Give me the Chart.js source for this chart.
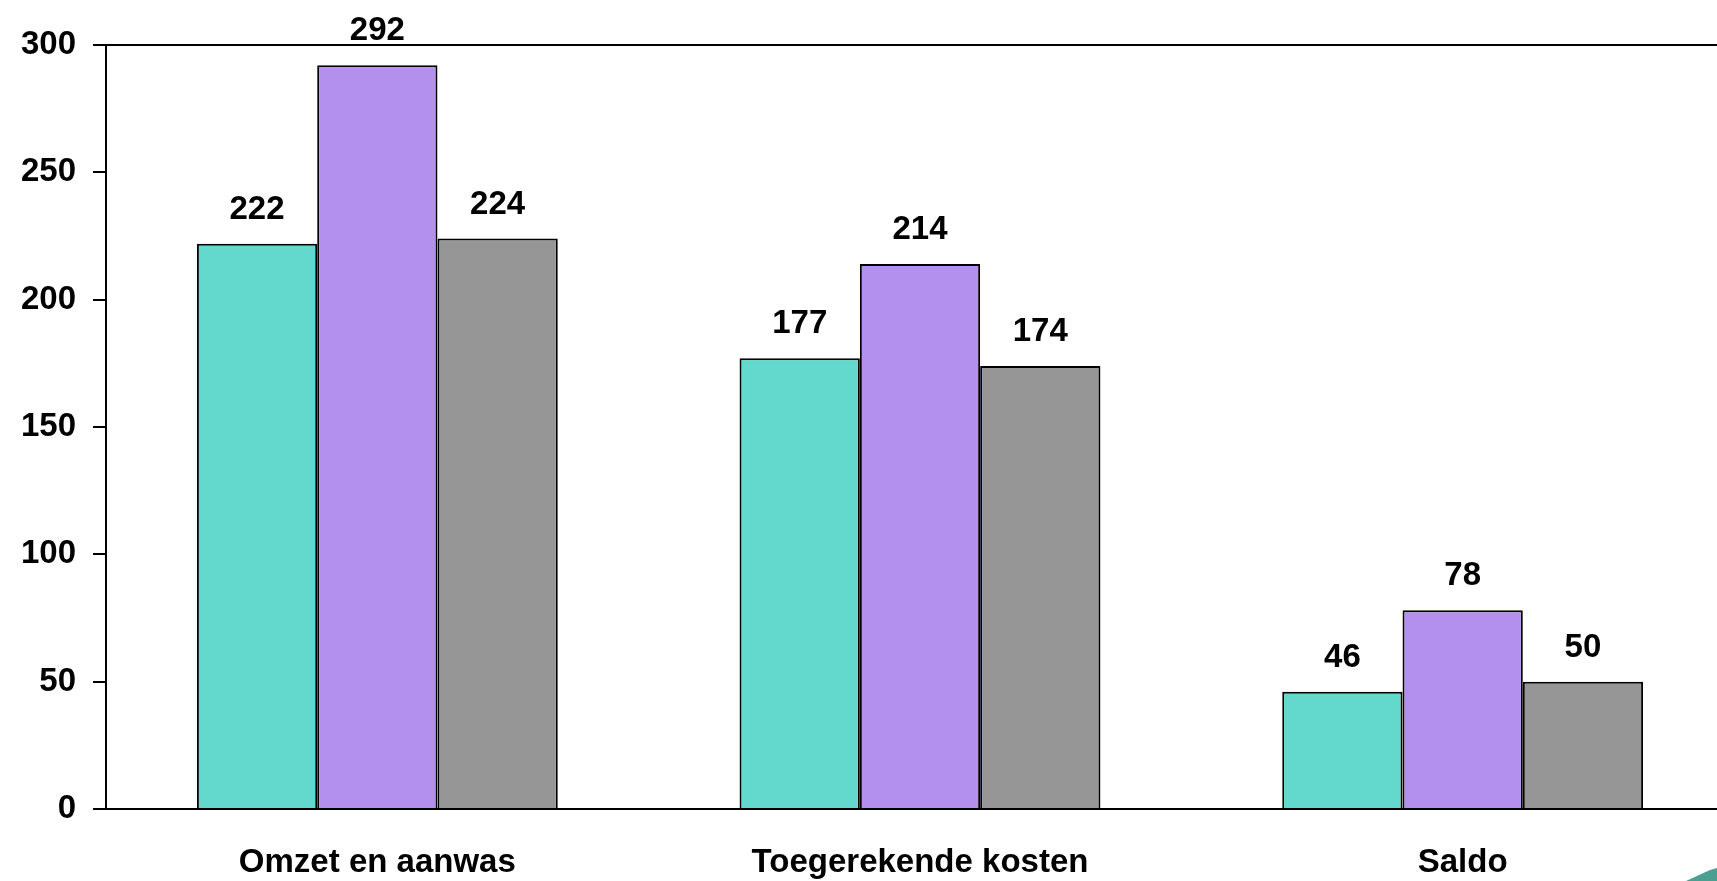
<!DOCTYPE html>
<html>
<head>
<meta charset="utf-8">
<script src="https://cdn.jsdelivr.net/npm/chart.js@4.4.1/dist/chart.umd.min.js"></script>
<style>
  html, body { margin: 0; padding: 0; background: #ffffff; overflow: hidden; }
  #wrap { position: relative; width: 1760px; height: 881px; }
</style>
</head>
<body>
<div id="wrap"><canvas id="c" width="1760" height="881"></canvas></div>
<script>
// ---- data ----
const categories = ["Omzet en aanwas", "Toegerekende kosten", "Saldo"];
const series1 = [222, 177, 46];
const series2 = [292, 214, 78];
const series3 = [224, 174, 50];
const seriesNames = ["Reeks 1", "Reeks 2", "Reeks 3"];
const yMin = 0, yMax = 300, yStep = 50;

const FONT = { family: "'Liberation Sans', Arial, Helvetica, sans-serif", size: 33, weight: "bold" };

const valueLabels = {
  id: "valueLabels",
  afterDatasetsDraw(chart) {
    const ctx = chart.ctx;
    ctx.save();
    ctx.font = `bold ${FONT.size}px ${FONT.family}`;
    ctx.fillStyle = "#000";
    ctx.textAlign = "center";
    ctx.textBaseline = "middle";
    chart.data.datasets.forEach((ds, di) => {
      const meta = chart.getDatasetMeta(di);
      meta.data.forEach((bar, i) => {
        ctx.fillText(String(ds.data[i]), bar.x, bar.y - 34);
      });
    });
    ctx.restore();
  }
};

const cornerMark = {
  id: "cornerMark",
  afterDraw(chart) {
    const ctx = chart.ctx;
    ctx.save();
    ctx.fillStyle = "#4a9f91";
    ctx.beginPath();
    ctx.moveTo(1686, 881);
    ctx.lineTo(1710, 870);
    ctx.lineTo(1717, 868);
    ctx.lineTo(1717, 881);
    ctx.closePath();
    ctx.fill();
    ctx.restore();
  }
};

new Chart(document.getElementById("c"), {
  type: "bar",
  data: {
    labels: categories,
    datasets: [
      { label: seriesNames[0], data: series1, backgroundColor: "#63d8cc", borderColor: "#000", borderWidth: 2 },
      { label: seriesNames[1], data: series2, backgroundColor: "#b390ee", borderColor: "#000", borderWidth: 2 },
      { label: seriesNames[2], data: series3, backgroundColor: "#969696", borderColor: "#000", borderWidth: 2 }
    ]
  },
  options: {
    responsive: false,
    animation: false,
    devicePixelRatio: 1,
    layout: { padding: { top: 45, left: 0, right: 26, bottom: 0 } },
    datasets: { bar: { categoryPercentage: 0.665, barPercentage: 1.0 } },
    plugins: { legend: { display: false }, tooltip: { enabled: false } },
    scales: {
      x: {
        grid: { display: false, drawTicks: false },
        border: { display: true, color: "#000", width: 2 },
        ticks: { color: "#000", font: FONT, padding: 34, maxRotation: 0, autoSkip: false },
        afterFit(scale) { scale.height = 72; }
      },
      y: {
        min: yMin, max: yMax,
        grid: {
          color: (c) => (c.tick && c.tick.value === yMax ? "#000" : "rgba(0,0,0,0)"),
          lineWidth: 2,
          tickColor: "#000",
          tickLength: 13,
          drawOnChartArea: true
        },
        border: { display: true, color: "#000", width: 2 },
        ticks: { stepSize: yStep, color: "#000", font: FONT, padding: 17 },
        afterFit(scale) { scale.width = 106; }
      }
    }
  },
  plugins: [valueLabels, cornerMark]
});
</script>
</body>
</html>
